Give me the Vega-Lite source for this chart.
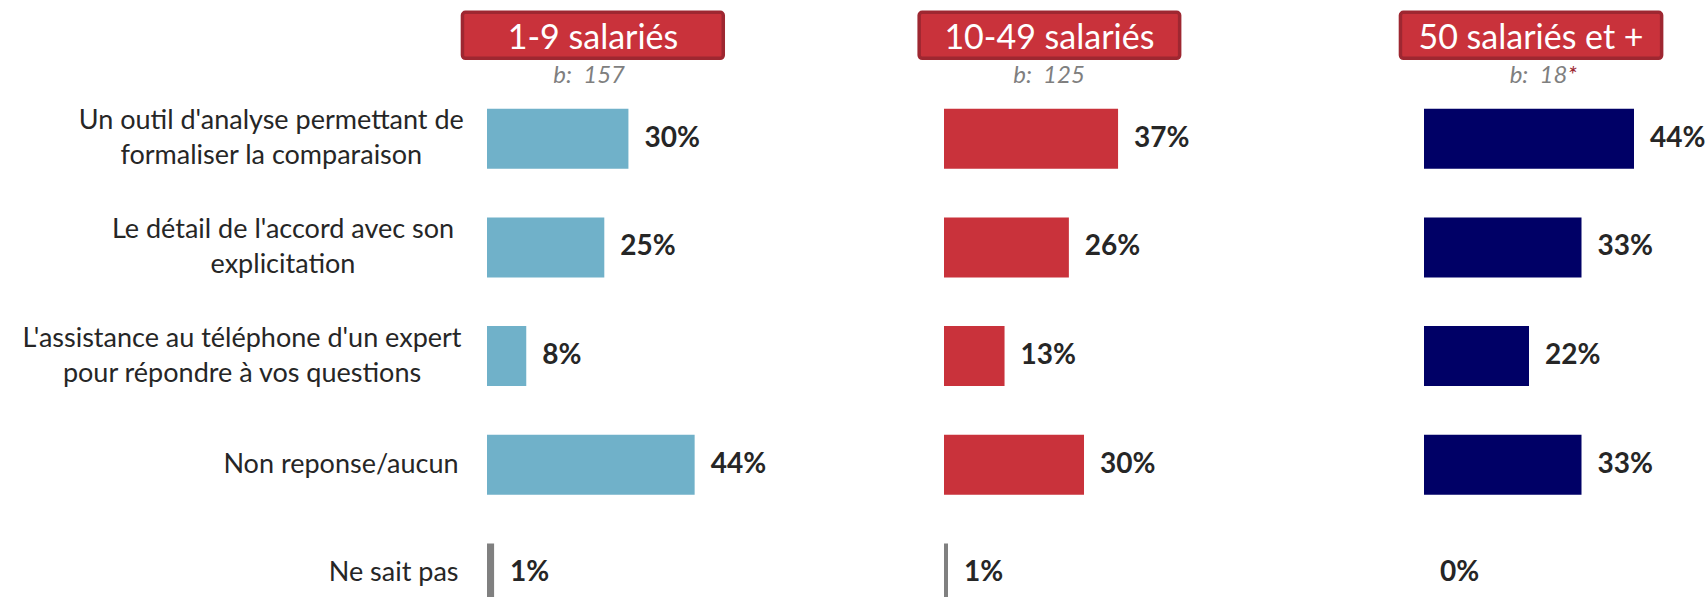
{
  "$schema": "https://vega.github.io/schema/vega-lite/v6.json",
  "padding": 0,
  "spacing": 0,
  "bounds": "flush",
  "background": "white",
  "config": {"view": {"stroke": null}, "font": "Lato"},
  "datasets": {
    "rows": [
      {"group": "1-9 salariés", "item": "Un outil d'analyse permettant de\nformaliser la comparaison", "value": 29.9, "label": "30%"},
      {"group": "1-9 salariés", "item": "Le détail de l'accord avec son\nexplicitation", "value": 24.8, "label": "25%"},
      {"group": "1-9 salariés", "item": "L'assistance au téléphone d'un expert\npour répondre à vos questions", "value": 8.3, "label": "8%"},
      {"group": "1-9 salariés", "item": "Non reponse/aucun", "value": 43.9, "label": "44%"},
      {"group": "1-9 salariés", "item": "Ne sait pas", "value": 1.5, "label": "1%"},
      {"group": "10-49 salariés", "item": "Un outil d'analyse permettant de\nformaliser la comparaison", "value": 36.8, "label": "37%"},
      {"group": "10-49 salariés", "item": "Le détail de l'accord avec son\nexplicitation", "value": 26.4, "label": "26%"},
      {"group": "10-49 salariés", "item": "L'assistance au téléphone d'un expert\npour répondre à vos questions", "value": 12.8, "label": "13%"},
      {"group": "10-49 salariés", "item": "Non reponse/aucun", "value": 29.6, "label": "30%"},
      {"group": "10-49 salariés", "item": "Ne sait pas", "value": 0.85, "label": "1%"},
      {"group": "50 salariés et +", "item": "Un outil d'analyse permettant de\nformaliser la comparaison", "value": 44.4, "label": "44%"},
      {"group": "50 salariés et +", "item": "Le détail de l'accord avec son\nexplicitation", "value": 33.3, "label": "33%"},
      {"group": "50 salariés et +", "item": "L'assistance au téléphone d'un expert\npour répondre à vos questions", "value": 22.2, "label": "22%"},
      {"group": "50 salariés et +", "item": "Non reponse/aucun", "value": 33.3, "label": "33%"},
      {"group": "50 salariés et +", "item": "Ne sait pas", "value": 0, "label": "0%"}
    ]
  },
  "hconcat": [
    {
      "width": 456.3,
      "height": 603.5,
      "layer": [
        {
          "data": {"name": "rows"},
          "transform": [{"filter": "datum.group == '1-9 salariés'"}],
          "mark": {"type": "bar"},
          "encoding": {
            "y": {"field": "item", "type": "nominal", "sort": null,
              "scale": {"domain": ["_h", "Un outil d'analyse permettant de\nformaliser la comparaison", "Le détail de l'accord avec son\nexplicitation", "L'assistance au téléphone d'un expert\npour répondre à vos questions", "Non reponse/aucun", "Ne sait pas"], "paddingInner": 0.448, "paddingOuter": 0},
              "axis": {"title": null, "values": ["Un outil d'analyse permettant de\nformaliser la comparaison", "Le détail de l'accord avec son\nexplicitation", "L'assistance au téléphone d'un expert\npour répondre à vos questions", "Non reponse/aucun", "Ne sait pas"],
                "domain": false, "ticks": false, "labelPadding": 29, "labelFontSize": 27, "labelColor": "#262626", "labelLineHeight": 35, "labelLimit": 0, "labelExpr": "split(datum.label, '\\n')", "minExtent": 487, "maxExtent": 487, "labelFont": "Lato", "labelBaseline": "middle",
                "encoding": {"labels": {
                  "align": {"value": {"expr": "indexof(datum.value, '\\n') >= 0 ? 'center' : 'right'"}},
                  "dx": {"value": {"expr": "indexof(datum.value, '\\n') >= 0 ? -5.85 * max(length(split(datum.value, '\\n')[0]), length(split(datum.value, '\\n')[1])) : 0"}},
                  "dy": {"value": {"expr": "indexof(datum.value, '\\n') >= 0 ? -17.5 : 0"}}
                }}}},
            "x": {"field": "value", "type": "quantitative", "scale": {"domain": [0, 96.47], "nice": false, "zero": true}, "axis": null},
            "color": {"condition": {"test": "datum.item == 'Ne sait pas'", "value": "#808080"}, "value": "#70B1C9"}
          }
        },
        {
          "data": {"name": "rows"},
          "transform": [{"filter": "datum.group == '1-9 salariés'"}],
          "mark": {"type": "text", "align": "left", "baseline": "middle", "dx": 16, "fontSize": 28, "fontWeight": "bold", "color": "#262626"},
          "encoding": {
            "y": {"field": "item", "type": "nominal", "sort": null},
            "x": {"field": "value", "type": "quantitative"},
            "text": {"field": "label"}
          }
        },
        {
          "data": {"values": [{"group": "1-9 salariés", "base": "b:\u00a0 157"}]},
          "mark": {"type": "bar", "height": 46, "yOffset": 5.3, "color": "#C9323B", "stroke": "#9E2731", "strokeWidth": 3.5, "cornerRadius": 3},
          "encoding": {
            "y": {"datum": "_h", "type": "nominal"},
            "x": {"datum": -5.19, "type": "quantitative"},
            "x2": {"datum": 49.95}
          }
        },
        {
          "data": {"values": [{"group": "1-9 salariés", "base": "b:\u00a0 157"}]},
          "mark": {"type": "text", "align": "center", "baseline": "alphabetic", "yOffset": 19, "fontSize": 34, "color": "white"},
          "encoding": {
            "y": {"datum": "_h", "type": "nominal"},
            "x": {"datum": 22.41, "type": "quantitative"},
            "text": {"field": "group"}
          }
        },
        {
          "data": {"values": [{"group": "1-9 salariés", "base": "b:\u00a0 157"}]},
          "mark": {"type": "text", "align": "center", "baseline": "alphabetic", "yOffset": 53, "fontSize": 24, "fontStyle": "italic", "color": "#7F7F7F"},
          "encoding": {
            "y": {"datum": "_h", "type": "nominal"},
            "x": {"datum": 21.6, "type": "quantitative"},
            "text": {"field": "base"}
          }
        }
      ]
    },
    {
      "width": 480,
      "height": 603.5,
      "layer": [
        {
          "data": {"name": "rows"},
          "transform": [{"filter": "datum.group == '10-49 salariés'"}],
          "mark": {"type": "bar"},
          "encoding": {
            "y": {"field": "item", "type": "nominal", "sort": null,
              "scale": {"domain": ["_h", "Un outil d'analyse permettant de\nformaliser la comparaison", "Le détail de l'accord avec son\nexplicitation", "L'assistance au téléphone d'un expert\npour répondre à vos questions", "Non reponse/aucun", "Ne sait pas"], "paddingInner": 0.448, "paddingOuter": 0},
              "axis": null},
            "x": {"field": "value", "type": "quantitative", "scale": {"domain": [0, 101.48], "nice": false, "zero": true}, "axis": null},
            "color": {"condition": {"test": "datum.item == 'Ne sait pas'", "value": "#808080"}, "value": "#C9323B"}
          }
        },
        {
          "data": {"name": "rows"},
          "transform": [{"filter": "datum.group == '10-49 salariés'"}],
          "mark": {"type": "text", "align": "left", "baseline": "middle", "dx": 16, "fontSize": 28, "fontWeight": "bold", "color": "#262626"},
          "encoding": {
            "y": {"field": "item", "type": "nominal", "sort": null, "axis": null},
            "x": {"field": "value", "type": "quantitative"},
            "text": {"field": "label"}
          }
        },
        {
          "data": {"values": [{"group": "10-49 salariés", "base": "b:\u00a0 125"}]},
          "mark": {"type": "bar", "height": 46, "yOffset": 5.3, "color": "#C9323B", "stroke": "#9E2731", "strokeWidth": 3.5, "cornerRadius": 3},
          "encoding": {
            "y": {"datum": "_h", "type": "nominal", "axis": null},
            "x": {"datum": -5.25, "type": "quantitative"},
            "x2": {"datum": 49.82}
          }
        },
        {
          "data": {"values": [{"group": "10-49 salariés", "base": "b:\u00a0 125"}]},
          "mark": {"type": "text", "align": "center", "baseline": "alphabetic", "yOffset": 19, "fontSize": 34, "color": "white"},
          "encoding": {
            "y": {"datum": "_h", "type": "nominal", "axis": null},
            "x": {"datum": 22.28, "type": "quantitative"},
            "text": {"field": "group"}
          }
        },
        {
          "data": {"values": [{"group": "10-49 salariés", "base": "b:\u00a0 125"}]},
          "mark": {"type": "text", "align": "center", "baseline": "alphabetic", "yOffset": 53, "fontSize": 24, "fontStyle": "italic", "color": "#7F7F7F"},
          "encoding": {
            "y": {"datum": "_h", "type": "nominal", "axis": null},
            "x": {"datum": 22.2, "type": "quantitative"},
            "text": {"field": "base"}
          }
        }
      ]
    },
    {
      "width": 280,
      "height": 603.5,
      "layer": [
        {
          "data": {"name": "rows"},
          "transform": [{"filter": "datum.group == '50 salariés et +'"}],
          "mark": {"type": "bar"},
          "encoding": {
            "y": {"field": "item", "type": "nominal", "sort": null,
              "scale": {"domain": ["_h", "Un outil d'analyse permettant de\nformaliser la comparaison", "Le détail de l'accord avec son\nexplicitation", "L'assistance au téléphone d'un expert\npour répondre à vos questions", "Non reponse/aucun", "Ne sait pas"], "paddingInner": 0.448, "paddingOuter": 0},
              "axis": null},
            "x": {"field": "value", "type": "quantitative", "scale": {"domain": [0, 59.2], "nice": false, "zero": true}, "axis": null},
            "color": {"condition": {"test": "datum.item == 'Ne sait pas'", "value": "#808080"}, "value": "#000066"}
          }
        },
        {
          "data": {"name": "rows"},
          "transform": [{"filter": "datum.group == '50 salariés et +'"}],
          "mark": {"type": "text", "align": "left", "baseline": "middle", "dx": 16, "fontSize": 28, "fontWeight": "bold", "color": "#262626"},
          "encoding": {
            "y": {"field": "item", "type": "nominal", "sort": null, "axis": null},
            "x": {"field": "value", "type": "quantitative"},
            "text": {"field": "label"}
          }
        },
        {
          "data": {"values": [{"group": "50 salariés et +", "base": "b:\u00a0 18", "star": "*"}]},
          "mark": {"type": "bar", "height": 46, "yOffset": 5.3, "color": "#C9323B", "stroke": "#9E2731", "strokeWidth": 3.5, "cornerRadius": 3},
          "encoding": {
            "y": {"datum": "_h", "type": "nominal", "axis": null},
            "x": {"datum": -4.98, "type": "quantitative"},
            "x2": {"datum": 50.24}
          }
        },
        {
          "data": {"values": [{"group": "50 salariés et +", "base": "b:\u00a0 18", "star": "*"}]},
          "mark": {"type": "text", "align": "center", "baseline": "alphabetic", "yOffset": 19, "fontSize": 34, "color": "white"},
          "encoding": {
            "y": {"datum": "_h", "type": "nominal", "axis": null},
            "x": {"datum": 22.62, "type": "quantitative"},
            "text": {"field": "group"}
          }
        },
        {
          "data": {"values": [{"group": "50 salariés et +", "base": "b:\u00a0 18", "star": "*"}]},
          "mark": {"type": "text", "align": "right", "baseline": "alphabetic", "yOffset": 53, "fontSize": 24, "fontStyle": "italic", "color": "#7F7F7F"},
          "encoding": {
            "y": {"datum": "_h", "type": "nominal", "axis": null},
            "x": {"datum": 30.32, "type": "quantitative"},
            "text": {"field": "base"}
          }
        },
        {
          "data": {"values": [{"group": "50 salariés et +", "base": "b:\u00a0 18", "star": "*"}]},
          "mark": {"type": "text", "align": "left", "baseline": "alphabetic", "yOffset": 53, "fontSize": 24, "fontStyle": "italic", "color": "#9B2530"},
          "encoding": {
            "y": {"datum": "_h", "type": "nominal", "axis": null},
            "x": {"datum": 30.32, "type": "quantitative"},
            "text": {"field": "star"}
          }
        }
      ]
    }
  ]
}
